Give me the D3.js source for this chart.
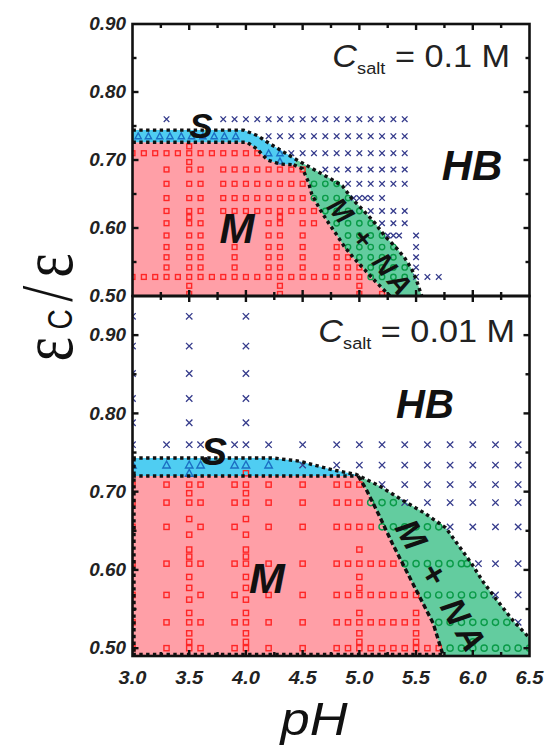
<!DOCTYPE html>
<html><head><meta charset="utf-8">
<script src="https://cdn.jsdelivr.net/npm/d3@7"></script>
<style>body{margin:0;background:#fff}svg{display:block}</style>
</head><body><svg id="c" width="546" height="747"></svg>
<script>
// ---------------- DATA ----------------
const xMajorTicks = [3.0,3.5,4.0,4.5,5.0,5.5,6.0,6.5];
const xTickLabels = ["3.0","3.5","4.0","4.5","5.0","5.5","6.0","6.5"];
const xMinorTicks = [3.25,3.75,4.25,4.75,5.25,5.75,6.25];
const yMajorTicks = [0.5,0.6,0.7,0.8,0.9];
const yTickLabels = ["0.50","0.60","0.70","0.80","0.90"];
const yMinorTicks = [0.55,0.65,0.75,0.85];

// Top panel (C_salt = 0.1 M): rows [eps, [pH...]]
const topSquares = [
  [0.72,[3.5]],
  [0.71,[3.0,3.1,3.2,3.3,3.4,3.5,3.6,3.7,3.8,3.9,4.0,4.1]],
  [0.697,[3.5]],
  [0.686,[3.3,3.5,3.6,3.8,3.9,4.0,4.1,4.2,4.3,4.4,4.5]],
  [0.665,[3.3,3.5,3.6,3.8,3.9,4.0,4.1,4.2,4.3,4.4,4.5]],
  [0.644,[3.3,3.5,3.6,3.8,3.9,4.0,4.1,4.2,4.3,4.4,4.5]],
  [0.625,[3.3,3.5,3.6,3.8,3.9,4.0,4.1,4.2,4.3,4.4,4.5,4.6]],
  [0.616,[3.5,4.3]],
  [0.607,[3.3,3.5,3.6,4.2,4.3,4.5,4.6]],
  [0.589,[3.3,3.5,3.6,4.2,4.3,4.5]],
  [0.572,[3.3,3.5,3.6,3.9,4.2,4.3,4.5,4.8]],
  [0.557,[3.3,3.5,3.6,3.9,4.2,4.3,4.5,4.8,4.9]],
  [0.542,[3.3,3.5,3.6,3.9,4.2,4.3,4.5,4.8,4.9,5.0]],
  [0.528,[3.0,3.1,3.2,3.3,3.4,3.5,3.6,3.7,3.8,3.9,4.0,4.1,4.2,4.3,4.4,4.5,4.6,4.7,4.8,4.9,5.0]],
  [0.515,[3.5,4.3,5.0]],
  [0.503,[3.5,4.3,5.0,5.2]]
];
const topCircles = [
  [0.665,[4.6,4.7,4.8]],
  [0.644,[4.6,4.7,4.8,4.9]],
  [0.625,[4.7,4.8,4.9,5.0]],
  [0.607,[4.8,4.9,5.0,5.1]],
  [0.589,[4.9,5.0,5.1,5.2]],
  [0.572,[4.9,5.0,5.1,5.2,5.3]],
  [0.557,[5.0,5.1,5.2,5.3]],
  [0.542,[5.1,5.2,5.3,5.4]],
  [0.528,[5.1,5.2,5.3,5.4]]
];
const topCrosses = [
  [0.76,[3.3,3.8,3.9,4.0,4.1,4.2,4.3,4.4,4.5,4.6,4.7,4.8,4.9,5.0,5.1,5.2,5.3,5.4]],
  [0.735,[4.2,4.3,4.4,4.5,4.6,4.7,4.8,4.9,5.0,5.1,5.2,5.3,5.4]],
  [0.71,[4.4,4.5,4.6,4.7,4.8,4.9,5.0,5.1,5.2,5.3,5.4]],
  [0.686,[4.7,4.8,4.9,5.0,5.1,5.2,5.3,5.4]],
  [0.665,[4.9,5.0,5.1,5.2,5.3,5.4]],
  [0.644,[4.95,5.0,5.05,5.1,5.2]],
  [0.625,[5.1,5.2,5.3,5.4]],
  [0.607,[5.2,5.3,5.4]],
  [0.589,[5.25,5.3,5.35,5.5]],
  [0.572,[5.5]],
  [0.557,[5.5]],
  [0.542,[5.5]],
  [0.528,[5.5,5.6,5.7]]
];
const topTriangles = [
  [0.735,[3.05,3.14,3.24,3.33,3.43,3.52,3.62,3.72,3.81,3.91]],
  [0.71,[4.2,4.3]],
  [0.698,[4.3]]
];
// boundaries [pH, eps]
const topOuterS  = [[3.0,0.744],[3.98,0.744],[4.1,0.736],[4.21,0.724],[4.33,0.712],[4.45,0.70]];
const topOuterNA = [[4.45,0.70],[4.6,0.686],[4.75,0.672],[4.85,0.662],[4.93,0.644],[5.04,0.625],[5.14,0.607],[5.22,0.589],[5.32,0.572],[5.4,0.556],[5.46,0.54],[5.5,0.525],[5.55,0.5]];
const topMTop    = [[3.0,0.726],[4.01,0.726],[4.10,0.716],[4.19,0.70],[4.30,0.694],[4.42,0.693]];
const topInner   = [[4.42,0.693],[4.5,0.687],[4.55,0.668],[4.58,0.65],[4.65,0.628],[4.73,0.607],[4.8,0.59],[4.87,0.572],[4.95,0.556],[5.05,0.538],[5.15,0.52],[5.27,0.5]];

// Bottom panel (C_salt = 0.01 M)
const botSquares = [
  [0.7235,[4.0]],
  [0.709,[3.0,3.3,3.5,3.6,3.9,4.0,4.2,4.5,4.8,4.9,5.0]],
  [0.698,[3.5,4.0]],
  [0.686,[3.0,3.3,3.5,3.6,3.9,4.0,4.2,4.5,4.8,4.9,5.0]],
  [0.665,[3.5,4.0]],
  [0.655,[3.0,3.3,3.6,3.9,4.2,4.5,4.8,4.9,5.0,5.1]],
  [0.645,[3.5,4.0]],
  [0.626,[3.5,4.0,5.0]],
  [0.617,[3.5,4.0]],
  [0.608,[3.0,3.3,3.5,3.6,3.9,4.0,4.2,4.5,4.8,4.9,5.0,5.1,5.2,5.3]],
  [0.591,[3.5,4.0,5.0]],
  [0.577,[3.5,4.0,5.0]],
  [0.568,[3.0,3.3,3.6,3.9,4.2,4.5,4.8,4.9,5.0,5.1,5.2,5.3,5.4,5.5]],
  [0.562,[3.5,4.0]],
  [0.545,[3.5,4.0,5.0,5.5]],
  [0.533,[3.0,3.3,3.5,3.6,3.9,4.0,4.2,4.5,4.8,4.9,5.0,5.1,5.2,5.3,5.4,5.5]],
  [0.519,[3.5,4.0,5.0,5.5]],
  [0.508,[3.5,4.0,5.0,5.5]],
  [0.50,[3.0,3.3,3.5,3.6,3.9,4.0,4.2,4.5,4.8,4.9,5.0,5.1,5.2,5.3,5.4,5.5,5.6,5.7]]
];
const botCircles = [
  [0.686,[5.1,5.2,5.3]],
  [0.655,[5.2,5.3,5.4,5.5,5.6,5.7]],
  [0.608,[5.4,5.5,5.6,5.7,5.8,5.9,5.95]],
  [0.568,[5.6,5.7,5.8,5.9,6.0,6.1]],
  [0.533,[5.7,5.8,5.9,6.0,6.1,6.2,6.3]],
  [0.508,[6.0]],
  [0.50,[5.8,5.9,6.0,6.1,6.2,6.3,6.4,6.5]]
];
const botCrosses = [
  [0.924,[3.0,3.5,4.0]],
  [0.886,[3.0,3.5,4.0]],
  [0.851,[3.0,3.5,4.0]],
  [0.819,[3.0,3.5,4.0]],
  [0.788,[3.0,3.5,4.0]],
  [0.76,[3.0,3.3,3.5,3.6,3.9,4.0,4.2,4.5,4.8,5.0,5.2,5.4,5.6,5.8,6.0,6.2,6.4]],
  [0.734,[4.5,4.8,5.0,5.2,5.4,5.6,5.8,6.0,6.2,6.4]],
  [0.709,[5.2,5.4,5.6,5.8,6.0,6.2,6.4]],
  [0.686,[5.4,5.6,5.8,6.0,6.2,6.4]],
  [0.655,[5.8,6.0,6.2,6.4]],
  [0.608,[6.05,6.2,6.4]],
  [0.568,[6.2,6.4]],
  [0.533,[6.4]]
];
const botTriangles = [
  [0.734,[3.0,3.3,3.5,3.6,3.9,4.0,4.2]],
  [0.7235,[3.5]]
];
const botOuterS  = [[3.0,0.743],[4.24,0.743],[4.47,0.739],[4.76,0.728],[4.97,0.722]];
const botOuterNA = [[4.97,0.722],[5.18,0.707],[5.37,0.690],[5.57,0.673],[5.76,0.654],[5.88,0.630],[5.99,0.608],[6.09,0.585],[6.21,0.562],[6.35,0.536],[6.5,0.513]];
const botMTop    = [[3.0,0.72],[4.99,0.72]];
const botInner   = [[4.99,0.72],[5.06,0.703],[5.18,0.668],[5.29,0.634],[5.41,0.600],[5.53,0.566],[5.65,0.532],[5.74,0.49]];

// ---------------- DRAW ----------------
const svg = d3.select("#c");
const FONT = "'Liberation Sans', Arial, Helvetica, sans-serif";
const SERIF = "'Liberation Serif', 'DejaVu Serif', 'Times New Roman', serif";
const x = d3.scaleLinear().domain([3,6.5]).range([132.5,529.5]);
const yT = d3.scaleLinear().domain([0.5,0.9]).range([296,24]);
const yB = d3.scaleLinear().domain([0.49,0.95]).range([656,296]);

const C = {pink:"#FF9FA7", blue:"#4FCDF2", green:"#63CC9F",
           sq:"#FF2626", ci:"#0A9B48", cr:"#363C8C", tr:"#1C6FC4"};

const expand = rows => rows.flatMap(([e,xs]) => xs.map(v => [v,e]));

function panel(id, y, d, sz) {
  const [x0,x1] = x.range(), [yb,yt] = y.range();
  svg.append("clipPath").attr("id","clip"+id)
    .append("rect").attr("x",x0).attr("y",yt).attr("width",x1-x0).attr("height",yb-yt);
  const g = svg.append("g").attr("clip-path",`url(#clip${id})`);
  const line = d3.line().x(p=>x(p[0])).y(p=>y(p[1]));
  const ymin = y.domain()[0];
  const rev = a => a.slice().reverse();
  // fills
  const pinkPoly = [[3.0,ymin]].concat(d.mTop, d.inner.slice(1));
  g.append("path").attr("d", line(pinkPoly)+"Z").attr("fill",C.pink);
  const bluePoly = d.outerS.concat([d.outerNA[0]], rev(d.mTop));
  g.append("path").attr("d", line(bluePoly)+"Z").attr("fill",C.blue);
  const last = d.outerNA[d.outerNA.length-1];
  const greenPoly = d.outerNA.concat([[last[0],ymin],[d.inner[d.inner.length-1][0],ymin]], rev(d.inner));
  g.append("path").attr("d", line(greenPoly)+"Z").attr("fill",C.green);

  // markers
  g.append("g").selectAll("rect").data(expand(d.squares)).join("rect")
    .attr("x",p=>x(p[0])-sz.s/2).attr("y",p=>y(p[1])-sz.s/2)
    .attr("width",sz.s).attr("height",sz.s)
    .attr("fill","none").attr("stroke",C.sq).attr("stroke-width",1.4);
  g.append("g").selectAll("circle").data(expand(d.circles)).join("circle")
    .attr("cx",p=>x(p[0])).attr("cy",p=>y(p[1])).attr("r",sz.c)
    .attr("fill","none").attr("stroke",C.ci).attr("stroke-width",1.4);
  const a = sz.x;
  g.append("g").selectAll("path").data(expand(d.crosses)).join("path")
    .attr("transform",p=>`translate(${x(p[0])},${y(p[1])})`)
    .attr("d",`M${-a},${-a}L${a},${a}M${-a},${a}L${a},${-a}`)
    .attr("fill","none").attr("stroke",C.cr).attr("stroke-width",1.3);
  const t = sz.t;
  g.append("g").selectAll("path").data(expand(d.triangles)).join("path")
    .attr("transform",p=>`translate(${x(p[0])},${y(p[1])})`)
    .attr("d",`M0,${-t}L${t*0.95},${t*0.75}L${-t*0.95},${t*0.75}Z`)
    .attr("fill","none").attr("stroke",C.tr).attr("stroke-width",1.4);

  // boundaries
  const dots = sel => sel.attr("fill","none").attr("stroke","#111")
      .attr("stroke-width",3.4).attr("stroke-dasharray","3.4 3.4");
  dots(g.append("path").attr("d", line(d.outerS.concat(d.outerNA.slice(1)))));
  dots(g.append("path").attr("d", line(d.mTop)));
  g.append("path").attr("d", line(d.inner)).attr("fill","none").attr("stroke","#111")
      .attr("stroke-width",3.4).attr("stroke-dasharray",d.innerDash);
  if (d.edges) {
    dots(g.append("path").attr("d", line([d.outerS[0],[3.0,ymin]])).attr("transform","translate(1.5,0)"));
    dots(g.append("path").attr("d", line([[3.0,ymin],[d.inner[d.inner.length-1][0],ymin]])).attr("transform","translate(0,-1.5)"));
  }

  // frame
  svg.append("rect").attr("x",x0).attr("y",yt).attr("width",x1-x0).attr("height",yb-yt)
    .attr("fill","none").attr("stroke","#111").attr("stroke-width",2.6);
  // ticks
  const tk = svg.append("g").attr("stroke","#111").attr("stroke-width",2.4);
  const tx = (vals,len) => vals.forEach(v => {
    tk.append("line").attr("x1",x(v)).attr("x2",x(v)).attr("y1",yb).attr("y2",yb-len);
    tk.append("line").attr("x1",x(v)).attr("x2",x(v)).attr("y1",yt).attr("y2",yt+len);
  });
  const ty = (vals,len) => vals.forEach(v => {
    tk.append("line").attr("y1",y(v)).attr("y2",y(v)).attr("x1",x0).attr("x2",x0+len);
    tk.append("line").attr("y1",y(v)).attr("y2",y(v)).attr("x1",x1).attr("x2",x1-len);
  });
  tx(xMajorTicks.slice(1,-1),6); tx(xMinorTicks,4);
  ty(yMajorTicks.filter(v=>y(v)>yt+1 && y(v)<yb-1),6); ty(yMinorTicks,4);
  // y labels
  svg.append("g").selectAll("text").data(yMajorTicks).join("text")
    .attr("transform",(v)=>`translate(126,${y(v)+6.2}) scale(1.08,1)`)
    .attr("text-anchor","end").attr("font-family",FONT).attr("font-size",17.5)
    .attr("font-weight","bold").attr("font-style","italic").attr("fill","#222")
    .text((v,i)=>yTickLabels[i]);
}

function label(txt, cx, cy, size, rot, len) {
  const tEl = svg.append("text")
    .attr("transform",`translate(${cx},${cy}) rotate(${rot||0})`)
    .attr("text-anchor","middle").attr("dy","0.36em")
    .attr("font-family",FONT).attr("font-size",size)
    .attr("font-weight","bold").attr("font-style","italic").attr("fill","#111")
    .text(txt);
  if (len) tEl.attr("textLength",len).attr("lengthAdjust","spacing");
}
function csalt(val, xr, yb) {
  const t = svg.append("text").attr("transform",`translate(${xr},${yb}) scale(1.07,1)`)
    .attr("text-anchor","end").attr("font-family",FONT).attr("font-size",32).attr("fill","#222");
  t.append("tspan").attr("font-style","italic").text("C");
  t.append("tspan").attr("font-size",17).attr("dy",7).text("salt");
  t.append("tspan").attr("dy",-7).text(` = ${val} M`);
}

panel("T", yT, {squares:topSquares, circles:topCircles, crosses:topCrosses, triangles:topTriangles,
  outerS:topOuterS, outerNA:topOuterNA, mTop:topMTop, inner:topInner, innerDash:"3.4 3.4", edges:false},
  {s:4.8, c:2.7, x:2.8, t:3.3});
panel("B", yB, {squares:botSquares, circles:botCircles, crosses:botCrosses, triangles:botTriangles,
  outerS:botOuterS, outerNA:botOuterNA, mTop:botMTop, inner:botInner, innerDash:"5 3", edges:true},
  {s:5.2, c:3.1, x:3.2, t:3.9});

// region labels
label("S", 201, 125, 35);
label("M", 237, 228, 42);
label("HB", 472, 165, 42);
label("M + NA", 370, 246, 28, 51, 116);
label("S", 214, 451, 39);
label("M", 267, 578, 43);
label("HB", 425, 404, 40);
label("M + NA", 441, 585, 34, 60, 146);

csalt("0.1", 510, 66.7);
csalt("0.01", 515, 341.5);

// x tick labels
svg.append("g").selectAll("text").data(xMajorTicks).join("text")
  .attr("transform",v=>`translate(${x(v)},684) scale(1.06,1)`)
  .attr("text-anchor","middle").attr("font-family",FONT).attr("font-size",19)
  .attr("font-weight","bold").attr("font-style","italic").attr("fill","#222")
  .text((v,i)=>xTickLabels[i]);

// axis titles
svg.append("text").attr("transform","translate(314,735) scale(1.14,1)")
  .attr("text-anchor","middle").attr("font-family",FONT).attr("font-size",46)
  .attr("font-style","italic").attr("fill","#111").text("pH");
const yt = svg.append("text").attr("transform","translate(72,307.5) scale(1.28,1) rotate(-90)")
  .attr("text-anchor","middle").attr("font-family",SERIF).attr("font-size",58).attr("fill","#111")
  .attr("textLength",108).attr("lengthAdjust","spacing");
yt.append("tspan").text("ε");
yt.append("tspan").attr("font-family",FONT).attr("font-size",28).text("C");
yt.append("tspan").text("/ε");
</script></body></html>
